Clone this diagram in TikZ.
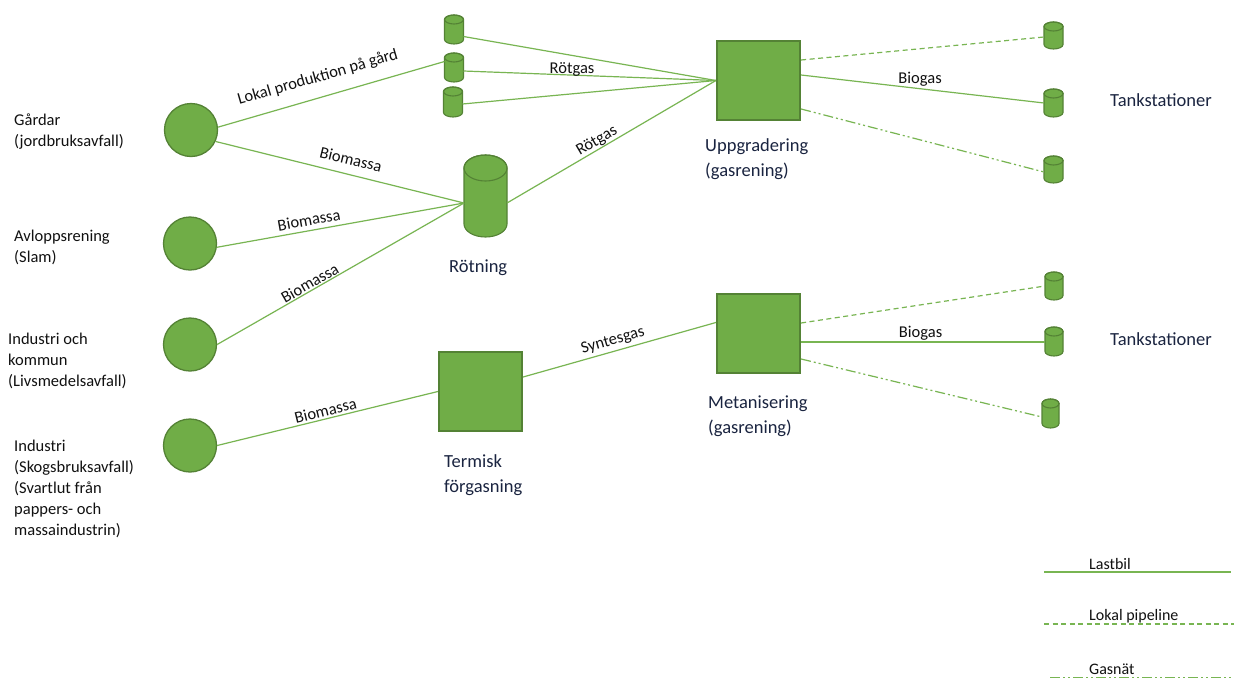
\documentclass[tikz,border=0pt]{standalone}
\usepackage{fontspec}
\setmainfont{Carlito}
\usetikzlibrary{calc}
\definecolor{leaf}{HTML}{70AD47}
\definecolor{leafdark}{HTML}{548235}
\definecolor{linkgreen}{HTML}{78B552}
\definecolor{navytext}{HTML}{1A2440}
\definecolor{inktext}{HTML}{111111}
\tikzset{
  source/.style={circle, fill=leaf, draw=leafdark, line width=1.3pt, minimum size=53pt, inner sep=0pt},
  plant/.style={rectangle, fill=leaf, draw=leafdark, line width=2.2pt, minimum width=83pt, minimum height=79pt, inner sep=0pt},
  tankslot/.style 2 args={rectangle, minimum width=#1pt, minimum height=#2pt, inner sep=0pt, outer sep=0pt},
  tankbody/.style={fill=leaf, draw=leafdark, line width=1.1pt},
  link/.style={draw=linkgreen, line width=1.2pt},
  pipe/.style={link, dash pattern=on 5pt off 3.5pt},
  gasgrid/.style={link, dash pattern=on 10pt off 3pt on 2pt off 3pt on 2pt off 3pt},
  elabel/.style={font=\fontsize{16.5}{19}\selectfont, text=inktext, inner sep=0pt},
  srclabel/.style={font=\fontsize{16.5}{21}\selectfont, text=inktext, align=left, anchor=west, inner sep=0pt},
  plabel/.style={font=\fontsize{18.5}{25}\selectfont, text=navytext, align=left, anchor=west, inner sep=0pt},
  legendtext/.style={font=\fontsize{16}{19}\selectfont, text=inktext, anchor=west, inner sep=0pt}
}
\begin{document}
\begin{tikzpicture}[x=1pt, y=-1pt]
\useasboundingbox (0,0) rectangle (1234,678);
\fill[white] (0,0) rectangle (1234,678);

% sources
\node[source] (c1) at (191,130) {};
\node[source] (c2) at (190,243.5) {};
\node[source] (c3) at (190,344.5) {};
\node[source] (c4) at (190,445.5) {};

\node[srclabel] (c1t) at (14,132) {Gårdar\\(jordbruksavfall)};
\node[srclabel] (c2t) at (14,247) {Avloppsrening\\(Slam)};
\node[srclabel] (c3t) at (8,361) {Industri och\\kommun\\(Livsmedelsavfall)};
\node[srclabel] (c4t) at (14,489) {Industri\\(Skogsbruksavfall)\\(Svartlut från\\pappers- och\\massaindustrin)};

% tanks (outline slots, drawn as cylinders below)
\node[tankslot={19}{29}] (s1) at (454,29.5) {};
\node[tankslot={19}{29}] (s2) at (454,67.5) {};
\node[tankslot={19}{30}] (s3) at (453,102) {};
\node[tankslot={43}{82}] (rot) at (485.5,196) {};
\node[tankslot={19}{27}] (t1) at (1053.5,35.5) {};
\node[tankslot={19}{28}] (t2) at (1053.5,103) {};
\node[tankslot={19}{27}] (t3) at (1053.5,169.5) {};
\node[tankslot={18}{28}] (b1) at (1054,286) {};
\node[tankslot={18}{29}] (b2) at (1054,341.5) {};
\node[tankslot={17}{29}] (b3) at (1050.5,413.5) {};

\foreach \n/\tw/\te in {s1/9.5/4.5, s2/9.5/4.5, s3/9.5/4.5, rot/21.5/13,
    t1/9.5/4.5, t2/9.5/4.5, t3/9.5/4.5, b1/9/4.5, b2/9/4.5, b3/8.5/4.5}{
  \filldraw[tankbody]
    ([yshift=-\te pt]\n.north west) -- ([yshift=\te pt]\n.south west)
    arc[start angle=180, end angle=360, x radius=\tw pt, y radius=\te pt]
    -- ([yshift=-\te pt]\n.north east)
    arc[start angle=0, end angle=180, x radius=\tw pt, y radius=\te pt] -- cycle;
  \draw[tankbody, fill=none] ([yshift=-\te pt]\n.north) ellipse[x radius=\tw pt, y radius=\te pt];
}

% processing plants
\node[plant] (upp) at (758.5,80.5) {};
\node[plant] (met) at (758.5,333.5) {};
\node[plant] (term) at (480.5,391.5) {};

\node[plabel] (rott) at (449,267.5) {Rötning};
\node[plabel] (uppt) at (705,159) {Uppgradering\\(gasrening)};
\node[plabel] (mett) at (708,416) {Metanisering\\(gasrening)};
\node[plabel] (termt) at (444,475.5) {Termisk\\förgasning};
\node[plabel] (tank1) at (1110,100.5) {Tankstationer};
\node[plabel] (tank2) at (1110,339.5) {Tankstationer};

% biomass transport
\draw[link] (c1.6) -- node[elabel, sloped, above=12pt, pos=0.465] {Lokal produktion på gård} ([yshift=6pt]s2.west);
\draw[link] (c1.-25) -- node[elabel, sloped, above=9pt, pos=0.53] {Biomassa} ([yshift=-7pt]rot.west);
\draw[link] (c2.-8) -- node[elabel, sloped, above=4.3pt, pos=0.38] {Biomassa} ([yshift=-7pt]rot.west);
\draw[link] (c3.east) -- node[elabel, sloped, above=1pt, pos=0.39] {Biomassa} ([yshift=-7pt]rot.west);
\draw[link] (c4.east) -- node[elabel, sloped, above=2pt, pos=0.5] {Biomassa} (term.west);

% raw gas to upgrading
\draw[link] ([yshift=-7pt]s1.east) -- (upp.west);
\draw[link] ([yshift=-3.5pt]s2.east) -- node[elabel, above=-1.5pt, pos=0.43] {Rötgas} (upp.west);
\draw[link] ([yshift=-2pt]s3.east) -- (upp.west);
\draw[link] ([yshift=-7pt]rot.east) -- node[elabel, sloped, above=0.5pt, pos=0.45] {Rötgas} (upp.west);
\draw[link] ([yshift=14.5pt]term.east) -- node[elabel, sloped, above=3pt, pos=0.48] {Syntesgas} ([yshift=11pt]met.west);

% distribution to filling stations
\draw[pipe] ([yshift=20.5pt]upp.east) -- ([yshift=-1.5pt]t1.west);
\draw[link] ([yshift=5.5pt]upp.east) -- node[elabel, above=1.5pt, pos=0.49] {Biogas} (t2.west);
\draw[gasgrid] ([yshift=-28.5pt]upp.east) -- ([yshift=-2.5pt]t3.west);
\draw[pipe] ([yshift=10.5pt]met.east) -- (b1.west);
\draw[link] ([yshift=-8.5pt]met.east) -- node[elabel, above=1.2pt, pos=0.49] {Biogas} ([yshift=-0.5pt]b2.west);
\draw[gasgrid] ([yshift=-25.5pt]met.east) -- ([yshift=-3.5pt]b3.west);

% legend
\coordinate (lg1a) at (1044,572);
\coordinate (lg1b) at (1231,572);
\coordinate (lg2a) at (1044,624);
\coordinate (lg2b) at (1234,624);
\coordinate (lg3a) at (1050,677.5);
\coordinate (lg3b) at (1234,677.5);
\draw[link] (lg1a) -- (lg1b);
\draw[pipe] (lg2a) -- (lg2b);
\draw[gasgrid] (lg3a) -- (lg3b);
\node[legendtext] (lg1t) at (1089,564) {Lastbil};
\node[legendtext] (lg2t) at (1089,616.5) {Lokal pipeline};
\node[legendtext] (lg3t) at (1089,669) {Gasnät};
\end{tikzpicture}
\end{document}
